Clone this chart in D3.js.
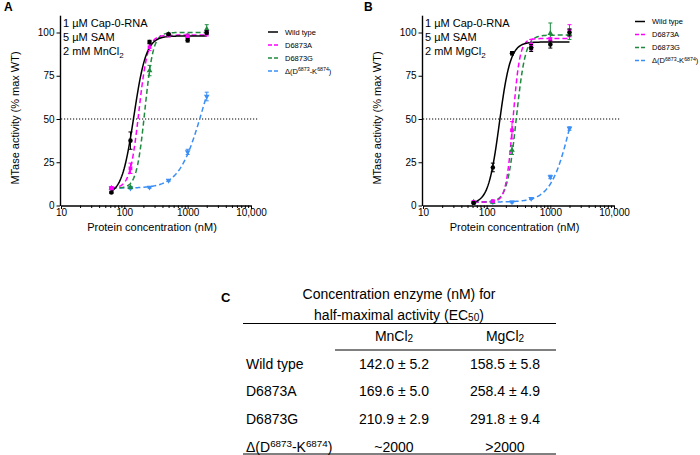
<!DOCTYPE html>
<html>
<head>
<meta charset="utf-8">
<script src="https://cdn.jsdelivr.net/npm/d3@7"></script>
<style>
    body { margin: 0; background: #fff; }
    svg { font-family: "Liberation Sans", Arial, Helvetica, sans-serif; }
</style>
</head>
<body>
<svg id="chart" width="700" height="455"></svg>
<script>
// x values (nM) shared by every series
const concentrations = [62.5, 125, 250, 500, 1000, 2000];
const seriesNames = ["Wild type", "D6873A", "D6873G", "Δ(D6873-K6874)"];
const seriesColors = ["#000000", "#ff00ff", "#1e8a3e", "#3a8ef5"];
const xTickValues = [10, 100, 1000, 10000];
const yTickValues = [0, 25, 50, 75, 100];

// panel A, MnCl2 (mean and error)
const mnWildType = [7.5, 37.5, 94.5, 99, 95.5, 100];
const mnWildTypeErr = [0.5, 5, 1, 0.5, 1, 1];
const mnD6873A = [10, 21.5, 91.5, 98.5, 97.5, 99.5];
const mnD6873AErr = [1, 3, 2, 1, 1.5, 1.5];
const mnD6873G = [10, 10.5, 78, 99, 98, 102];
const mnD6873GErr = [0.5, 0.5, 3, 0.5, 1, 2.5];
const mnDelta = [10, 10, 10.5, 14.5, 31, 63];
const mnDeltaErr = [0.5, 0.5, 0.5, 0.5, 1.5, 2.5];
// fitted dose-response curves: bottom, top, EC50, hill
const mnFitBottom = [6, 10, 10, 10];
const mnFitTop = [98, 98.5, 100, 100];
const mnFitEC50 = [142, 169.6, 210.9, 1700];
const mnFitHill = [4.5, 6.2, 6.6, 2.4];

// panel B, MgCl2
const mgWildType = [1.5, 22, 88, 91, 93, 100];
const mgWildTypeErr = [0.5, 2.5, 1, 2, 2, 2];
const mgD6873A = [2, 2.5, 43.5, 93, 96, 101];
const mgD6873AErr = [0.5, 0.5, 5, 3, 1, 3.5];
const mgD6873G = [2, 2, 32, 92, 99.5, 99];
const mgD6873GErr = [0.5, 0.5, 2.5, 2, 6, 3];
const mgDelta = [1.5, 2, 2, 4, 16.5, 44.5];
const mgDeltaErr = [0.5, 0.5, 0.5, 0.5, 1, 1];
const mgFitBottom = [1, 2, 2, 2];
const mgFitTop = [94.5, 96.5, 98.5, 100];
const mgFitEC50 = [158.5, 258.4, 291.8, 2200];
const mgFitHill = [5, 8, 6, 2.7];

// table C
const tableRows = ["Wild type", "D6873A", "D6873G", "Δ(D6873-K6874)"];
const ec50Mn = ["142.0 ± 5.2", "169.6 ± 5.0", "210.9 ± 2.9", "~2000"];
const ec50Mg = ["158.5 ± 5.8", "258.4 ± 4.9", "291.8 ± 9.4", ">2000"];

const svg = d3.select("#chart");

// writes "Δ(D6873-K6874)" with superscripts
function deltaLabel(sel, size) {
    sel.append("tspan").text("Δ(D");
    sel.append("tspan").attr("dy", -size * 0.35).attr("font-size", size * 0.7).text("6873");
    sel.append("tspan").attr("dy", size * 0.35).text("-K");
    sel.append("tspan").attr("dy", -size * 0.35).attr("font-size", size * 0.7).text("6874");
    sel.append("tspan").attr("dy", size * 0.35).text(")");
}

function drawPanel(p) {
    const g = svg.append("g");
    const x = d3.scaleLog().domain([10, 10000]).range(p.xRange);
    const y = d3.scaleLinear().domain([0, 110]).range([205.5, 15.2]);

    // minor ticks
    const minor = [];
    [10, 100, 1000].forEach(d => { for (let k = 2; k <= 9; k++) minor.push(d * k); });
    g.append("g")
        .attr("transform", "translate(0,205.5)")
        .call(d3.axisBottom(x).tickValues(minor).tickSize(2.5).tickFormat(""))
        .call(a => a.select(".domain").remove())
        .selectAll("line").attr("stroke-width", 1);

    const xAxis = g.append("g")
        .attr("transform", "translate(0,205.5)")
        .call(d3.axisBottom(x).tickValues(xTickValues).tickSize(3.5).tickSizeOuter(0).tickPadding(0)
            .tickFormat(d => d === 10000 ? "10,000" : d));
    xAxis.selectAll("text").attr("font-size", 10).attr("fill", "#000").attr("font-family", null);
    xAxis.select(".domain").attr("stroke-width", 1.4);

    const yAxis = g.append("g")
        .attr("transform", `translate(${p.xRange[0] - 1},0)`)
        .call(d3.axisLeft(y).tickValues(yTickValues).tickSize(3.5).tickSizeOuter(0).tickPadding(2));
    yAxis.selectAll("text").attr("font-size", 10).attr("fill", "#000").attr("font-family", null);
    yAxis.select(".domain").attr("stroke-width", 1.4);

    // 50 % reference line
    g.append("line")
        .attr("x1", p.xRange[0]).attr("x2", p.xRange[1] + 7)
        .attr("y1", y(50)).attr("y2", y(50))
        .attr("stroke", "#000").attr("stroke-width", 1.1).attr("stroke-dasharray", "1.2,1.8");

    // fitted curves
    const line = d3.line().x(d => x(d[0])).y(d => y(d[1]));
    const xs = d3.range(0, 121).map(i => 62.5 * Math.pow(32, i / 120));
    [3, 2, 1, 0].forEach(s => {
        const pts = xs.map(c => [c, p.bottom[s] + (p.top[s] - p.bottom[s]) / (1 + Math.pow(p.ec50[s] / c, p.hill[s]))]);
        g.append("path")
            .attr("d", line(pts))
            .attr("fill", "none")
            .attr("stroke", seriesColors[s])
            .attr("stroke-width", 1.5)
            .attr("stroke-dasharray", s === 0 ? null : "5,3");
    });

    // points with error bars
    const shapes = [d3.symbolCircle, d3.symbolSquare, d3.symbolTriangle, d3.symbolTriangle];
    [3, 2, 1, 0].forEach(s => {
        const vals = p.values[s], errs = p.errors[s];
        concentrations.forEach((c, i) => {
            const cx = x(c);
            const lo = y(vals[i] - errs[i]), hi = y(vals[i] + errs[i]);
            g.append("line").attr("x1", cx).attr("x2", cx).attr("y1", lo).attr("y2", hi)
                .attr("stroke", seriesColors[s]).attr("stroke-width", 1);
            [lo, hi].forEach(yy => g.append("line")
                .attr("x1", cx - 2).attr("x2", cx + 2).attr("y1", yy).attr("y2", yy)
                .attr("stroke", seriesColors[s]).attr("stroke-width", 1));
            g.append("path")
                .attr("d", d3.symbol().type(shapes[s]).size(s === 0 ? 16 : 14)())
                .attr("transform", `translate(${cx},${y(vals[i])})` + (s === 3 ? " rotate(180)" : ""))
                .attr("fill", seriesColors[s]);
        });
    });

    // panel letter
    g.append("text").attr("x", p.letterX).attr("y", 11)
        .attr("font-size", 12).attr("font-weight", "bold").text(p.letter);

    // conditions
    const cond = ["1 µM Cap-0-RNA", "5 µM SAM"];
    cond.forEach((t, i) => g.append("text").attr("x", p.xRange[0] + 2).attr("y", 26.5 + i * 14.2)
        .attr("font-size", 11).text(t));
    const salt = g.append("text").attr("x", p.xRange[0] + 2).attr("y", 55).attr("font-size", 11);
    salt.append("tspan").text("2 mM " + p.salt);
    salt.append("tspan").attr("dy", 3).attr("font-size", 8).text("2");

    // axis titles
    g.append("text")
        .attr("transform", `translate(${p.xRange[0] - 42},118) rotate(-90)`)
        .attr("text-anchor", "middle").attr("font-size", 11)
        .text("MTase activity (% max WT)");
    g.append("text")
        .attr("x", (p.xRange[0] + p.xRange[1]) / 2 - 4).attr("y", 231)
        .attr("text-anchor", "middle").attr("font-size", 11)
        .text("Protein concentration (nM)");

    // legend
    seriesNames.forEach((name, s) => {
        const ly = p.legendY + s * 13;
        g.append("line")
            .attr("x1", p.legendX).attr("x2", p.legendX + 10).attr("y1", ly).attr("y2", ly)
            .attr("stroke", seriesColors[s]).attr("stroke-width", 1.5)
            .attr("stroke-dasharray", s === 0 ? null : "4,2");
        const t = g.append("text").attr("x", p.legendX + 17).attr("y", ly + 2.7).attr("font-size", 7.5);
        if (s === 3) deltaLabel(t, 7.5); else t.text(name);
    });
}

drawPanel({
    letter: "A", letterX: 4, salt: "MnCl", xRange: [61, 251],
    values: [mnWildType, mnD6873A, mnD6873G, mnDelta],
    errors: [mnWildTypeErr, mnD6873AErr, mnD6873GErr, mnDeltaErr],
    bottom: mnFitBottom, top: mnFitTop, ec50: mnFitEC50, hill: mnFitHill,
    legendX: 268, legendY: 32
});
drawPanel({
    letter: "B", letterX: 364, salt: "MgCl", xRange: [423, 614],
    values: [mgWildType, mgD6873A, mgD6873G, mgDelta],
    errors: [mgWildTypeErr, mgD6873AErr, mgD6873GErr, mgDeltaErr],
    bottom: mgFitBottom, top: mgFitTop, ec50: mgFitEC50, hill: mgFitHill,
    legendX: 635, legendY: 21.5
});

// ---- table C ----
const tbl = svg.append("g").attr("font-size", 14);
tbl.append("text").attr("x", 221).attr("y", 302).attr("font-weight", "bold").attr("font-size", 13).text("C");
tbl.append("text").attr("x", 399).attr("y", 299).attr("text-anchor", "middle").text("Concentration enzyme (nM) for");
const sub = tbl.append("text").attr("x", 399).attr("y", 320).attr("text-anchor", "middle");
sub.append("tspan").text("half-maximal activity (EC");
sub.append("tspan").attr("font-size", 10).attr("dy", 1).text("50");
sub.append("tspan").attr("dy", -1).text(")");

tbl.append("line").attr("x1", 243).attr("x2", 556).attr("y1", 323.5).attr("y2", 323.5).attr("stroke", "#000");
tbl.append("line").attr("x1", 335).attr("x2", 556).attr("y1", 350).attr("y2", 350).attr("stroke", "#000");
tbl.append("line").attr("x1", 243).attr("x2", 556).attr("y1", 454).attr("y2", 454).attr("stroke", "#000");

const colX = [394, 505];
["Mn", "Mg"].forEach((m, i) => {
    const h = tbl.append("text").attr("x", colX[i]).attr("y", 341).attr("text-anchor", "middle");
    h.append("tspan").text(m + "Cl");
    h.append("tspan").attr("font-size", 10).attr("dy", 1).text("2");
});

const rowY = d3.scalePoint().domain(tableRows).range([368.5, 451.5]);
tableRows.forEach((r, i) => {
    const t = tbl.append("text").attr("x", 246).attr("y", rowY(r));
    if (i === 3) deltaLabel(t, 14); else t.text(r);
    tbl.append("text").attr("x", colX[0]).attr("y", rowY(r)).attr("text-anchor", "middle").text(ec50Mn[i]);
    tbl.append("text").attr("x", colX[1]).attr("y", rowY(r)).attr("text-anchor", "middle").text(ec50Mg[i]);
});
</script>
</body>
</html>
